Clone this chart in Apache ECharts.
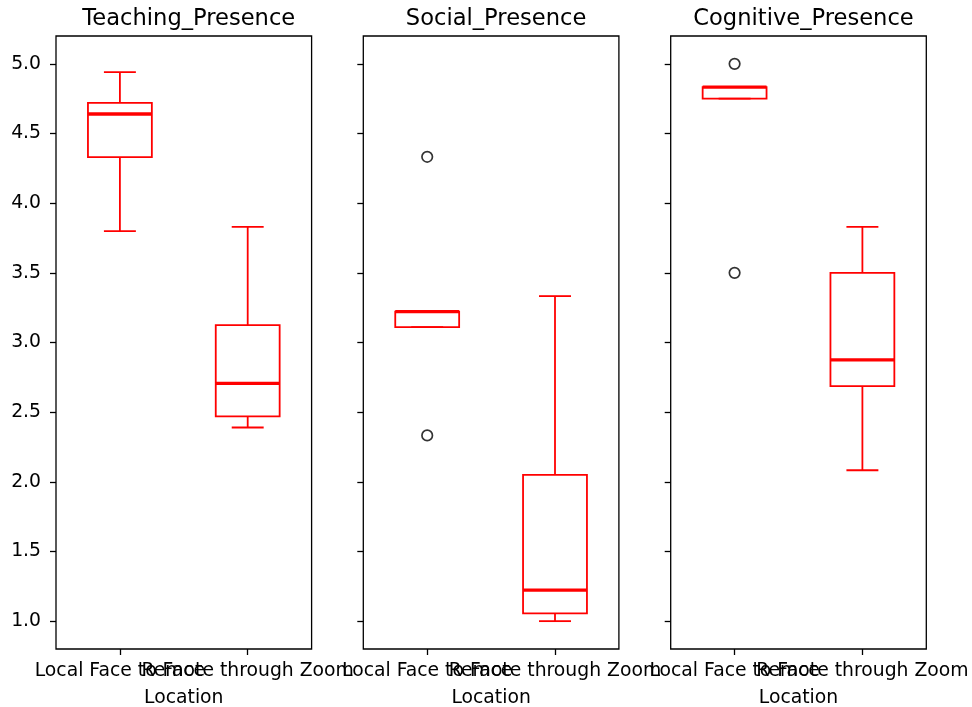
<!DOCTYPE html>
<html>
<head>
<meta charset="utf-8">
<script src="https://cdn.jsdelivr.net/npm/echarts@6/dist/echarts.min.js"></script>
<style>
html,body{margin:0;padding:0;background:#fff;}
#chart{width:972px;height:707px;}
</style>
</head>
<body>
<div id="chart"></div>
<script>
// ---- data ----
const panelTitles = ['Teaching_Presence', 'Social_Presence', 'Cognitive_Presence'];
const categories = ['Local Face to Face', 'Remote through Zoom'];
const yTicks = [1.0, 1.5, 2.0, 2.5, 3.0, 3.5, 4.0, 4.5, 5.0];

// [categoryIndex, lowWhisker, Q1, median, Q3, highWhisker]
const teachingBoxes = [
  [0, 3.80, 4.33, 4.64, 4.72, 4.94],
  [1, 2.39, 2.47, 2.706, 3.125, 3.83]
];
const socialBoxes = [
  [0, 3.111, 3.111, 3.222, 3.222, 3.222],
  [1, 1.0, 1.056, 1.222, 2.05, 3.333]
];
const cognitiveBoxes = [
  [0, 4.75, 4.75, 4.833, 4.833, 4.833],
  [1, 2.083, 2.687, 2.875, 3.5, 3.83]
];
// [categoryIndex, value]
const teachingOutliers = [];
const socialOutliers = [[0, 4.333], [0, 2.333]];
const cognitiveOutliers = [[0, 5.0], [0, 3.5]];

const boxSets = [teachingBoxes, socialBoxes, cognitiveBoxes];
const outlierSets = [teachingOutliers, socialOutliers, cognitiveOutliers];

// ---- layout ----
const FONT = 'DejaVu Sans';
const gridLefts = [56, 363.3, 670.7];
const gridWidth = 255.6;
const gridTop = 36;
const gridHeight = 613;
const RED = '#ff0000';

function renderBox(params, api) {
  const x = api.value(0);
  const lo = api.coord([x, api.value(1)]);
  const q1 = api.coord([x, api.value(2)]);
  const med = api.coord([x, api.value(3)]);
  const q3 = api.coord([x, api.value(4)]);
  const hi = api.coord([x, api.value(5)]);
  const band = api.size([1, 0])[0];
  const bw = band * 0.5;
  const cw = bw * 0.5;
  const cx = lo[0];
  const lineStyle = { stroke: RED, lineWidth: 1.8, fill: null };
  return {
    type: 'group',
    children: [
      { type: 'line', shape: { x1: cx, y1: q1[1], x2: cx, y2: lo[1] }, style: lineStyle },
      { type: 'line', shape: { x1: cx, y1: q3[1], x2: cx, y2: hi[1] }, style: lineStyle },
      { type: 'line', shape: { x1: cx - cw / 2, y1: lo[1], x2: cx + cw / 2, y2: lo[1] }, style: lineStyle },
      { type: 'line', shape: { x1: cx - cw / 2, y1: hi[1], x2: cx + cw / 2, y2: hi[1] }, style: lineStyle },
      { type: 'rect', shape: { x: cx - bw / 2, y: q3[1], width: bw, height: q1[1] - q3[1] }, style: { stroke: RED, lineWidth: 1.8, fill: 'none' } },
      { type: 'line', shape: { x1: cx - bw / 2, y1: med[1], x2: cx + bw / 2, y2: med[1] }, style: { stroke: RED, lineWidth: 3.3 } }
    ]
  };
}

const grids = [], xAxes = [], yAxes = [], series = [], titles = [];
for (let i = 0; i < 3; i++) {
  grids.push({ left: gridLefts[i], top: gridTop, width: gridWidth, height: gridHeight,
    containLabel: false, outerBoundsMode: 'none',
    show: true, borderColor: '#000', borderWidth: 1.3, backgroundColor: '#fff' });
  titles.push({ text: panelTitles[i], left: gridLefts[i] + gridWidth / 2, top: 3, textAlign: 'center',
    textStyle: { fontFamily: FONT, fontSize: 22.6, fontWeight: 'normal', color: '#000' } });
  xAxes.push({
    type: 'category', gridIndex: i, data: categories,
    axisLine: { show: false },
    axisTick: { show: true, alignWithLabel: true, length: 6, lineStyle: { color: '#000', width: 1.3 } },
    axisLabel: { interval: 0, hideOverlap: false, margin: 13, fontFamily: FONT, fontSize: 18.8, color: '#000' },
    splitLine: { show: false },
    name: 'Location', nameLocation: 'middle', nameGap: 40,
    nameTextStyle: { fontFamily: FONT, fontSize: 18.8, color: '#000' }
  });
  yAxes.push({
    type: 'value', gridIndex: i, min: 0.8, max: 5.2,
    axisLine: { show: false },
    axisTick: { show: true, length: 6, customValues: yTicks, lineStyle: { color: '#000', width: 1.3 } },
    axisLabel: { show: i === 0, customValues: yTicks, margin: 15, fontFamily: FONT, fontSize: 18.8, color: '#000',
      formatter: v => Number(v).toFixed(1) },
    splitLine: { show: false }
  });
  series.push({
    type: 'custom', xAxisIndex: i, yAxisIndex: i, data: boxSets[i],
    encode: { x: 0, y: [1, 2, 3, 4, 5] }, renderItem: renderBox, silent: true, z: 2
  });
  series.push({
    type: 'scatter', xAxisIndex: i, yAxisIndex: i, data: outlierSets[i],
    symbol: 'circle', symbolSize: 10.5, silent: true, z: 3,
    itemStyle: { color: 'rgba(0,0,0,0)', borderColor: '#000', borderWidth: 1.7 }
  });
}

const chart = echarts.init(document.getElementById('chart'), null, { renderer: 'canvas' });
chart.setOption({
  animation: false,
  backgroundColor: '#fff',
  title: titles,
  grid: grids,
  xAxis: xAxes,
  yAxis: yAxes,
  series: series
});
</script>
</body>
</html>
